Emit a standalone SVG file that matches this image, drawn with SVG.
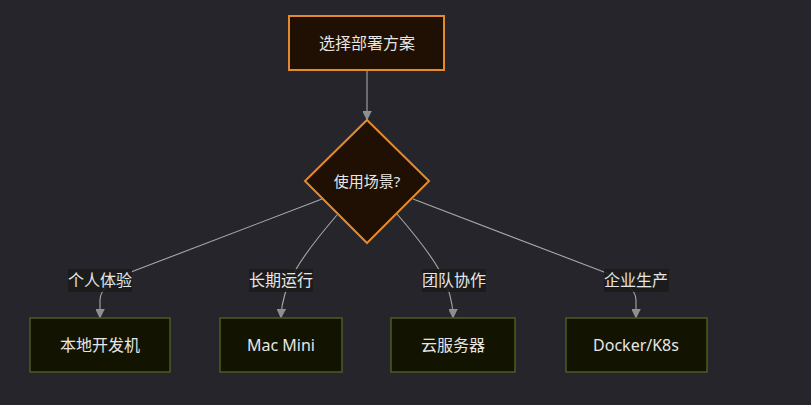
<svg xmlns="http://www.w3.org/2000/svg" width="811" height="405" viewBox="0 0 811 405">
<style>
text{font-family:"Noto Sans","Noto Sans CJK SC",sans-serif;font-size:16px;fill:#e6e6e6;text-anchor:middle;dominant-baseline:central}
.org{fill:#1f1003;stroke:#e38b2c;stroke-width:2}
.grn{fill:#131302;stroke:#4d5c23;stroke-width:1.5}
.edge{fill:none;stroke:#a9a9a9;stroke-width:1.1}
.lbl{fill:#1c1c1c;opacity:0.9}
</style>
<defs>
<marker id="arr" viewBox="0 0 10 10" refX="9" refY="5" markerWidth="9" markerHeight="9" markerUnits="userSpaceOnUse" orient="auto">
<path d="M0,0 L10,5 L0,10 z" fill="#8e8e8e" stroke="#a9a9a9" stroke-width="0.5"/>
</marker>
</defs>
<rect width="811" height="405" fill="#25252b"/>
<g id="connectors">
<path class="edge" d="M367,71 L367,119" marker-end="url(#arr)"/>
<path class="edge" d="M322,199 L131,272 Q100,285 100,300 L100,317" marker-end="url(#arr)"/>
<path class="edge" d="M337,215 C300,258 282,285 281,317" marker-end="url(#arr)"/>
<path class="edge" d="M397,214 C435,258 453,285 453,317" marker-end="url(#arr)"/>
<path class="edge" d="M413,199 L604,272 Q636,285 636,300 L636,317" marker-end="url(#arr)"/>
</g>
<g id="labels">
<rect class="lbl" x="68" y="269" width="64" height="23"/><text x="100" y="280">个人体验</text>
<rect class="lbl" x="249" y="269" width="64" height="23"/><text x="281" y="280">长期运行</text>
<rect class="lbl" x="422" y="269" width="64" height="23"/><text x="454" y="280">团队协作</text>
<rect class="lbl" x="604" y="269" width="65" height="23"/><text x="636" y="280">企业生产</text>
</g>
<g id="start"><rect class="org" x="289" y="16" width="155" height="54"/><text x="367" y="43">选择部署方案</text></g>
<g id="decision"><polygon class="org" points="367,120 429,181 367,243 305,181"/><text x="367" y="181" style="font-size:15px">使用场景?</text></g>
<g id="local"><rect class="grn" x="30" y="318" width="140" height="54"/><text x="100" y="345">本地开发机</text></g>
<g id="mac"><rect class="grn" x="220" y="318" width="122" height="54"/><text x="281" y="345">Mac Mini</text></g>
<g id="cloud"><rect class="grn" x="391" y="318" width="124" height="54"/><text x="453" y="345">云服务器</text></g>
<g id="docker"><rect class="grn" x="566" y="318" width="141" height="54"/><text x="636" y="345">Docker/K8s</text></g>
</svg>
